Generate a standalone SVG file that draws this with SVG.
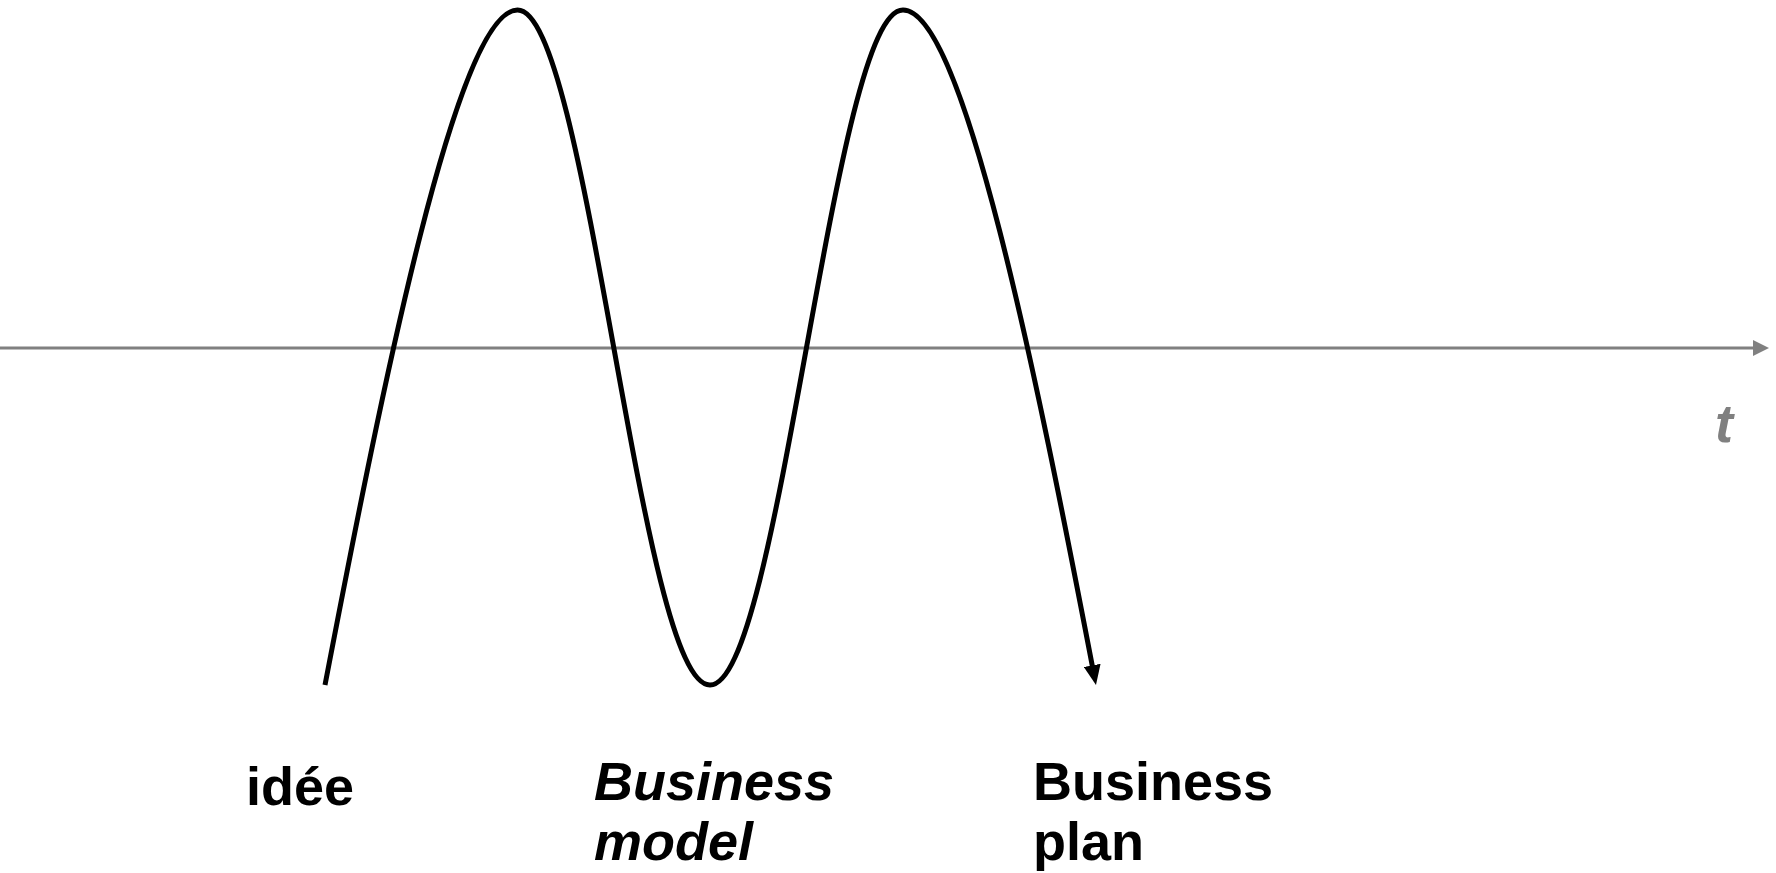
<svg xmlns="http://www.w3.org/2000/svg" width="1776" height="873" viewBox="0 0 1776 873">
  <style>
    .lbl { font-family: "Liberation Sans", Arial, sans-serif; font-size: 54px; font-weight: bold; fill: #000000; }
    .it { font-style: italic; }
    .axis { stroke: #808080; stroke-width: 3; fill: none; }
    .wave { stroke: #000000; stroke-width: 5; fill: none; stroke-linecap: butt; stroke-linejoin: round; }
  </style>
  <defs>
    <marker id="axisArrow" markerUnits="userSpaceOnUse" viewBox="0 0 16 16" markerWidth="16" markerHeight="16" refX="1" refY="8" orient="auto">
      <path d="M0,0 L16,8 L0,16 z" fill="#808080"/>
    </marker>
    <marker id="waveArrow" markerUnits="userSpaceOnUse" viewBox="0 0 20 17" markerWidth="20" markerHeight="17" refX="10" refY="8.5" orient="auto">
      <path d="M0,0 L20,8.5 L0,17 z" fill="#000000"/>
    </marker>
  </defs>
  <rect width="1776" height="873" fill="#ffffff"/>
  <g id="connectors">
    <line id="time-axis" class="axis" x1="0" y1="348" x2="1754" y2="348" marker-end="url(#axisArrow)"/>
    <path id="wave" class="wave" marker-end="url(#waveArrow)"
      d="M325,685 C382.6,385 457.5,10 517.5,10
         C552.3,10 582.4,174.6 613.75,347.5
         C645.1,520.4 675.2,685 710,685
         C744.9,685 775,520.4 806.5,347.5
         C838,174.6 868.1,10 903,10
         C963,10 1036.7,376 1094.1,675.2"/>
  </g>
  <g id="axis-label">
    <text class="lbl it" x="1715" y="442" style="fill:#808080">t</text>
  </g>
  <g id="node-idee">
    <text class="lbl" x="246" y="805">idée</text>
  </g>
  <g id="node-business-model">
    <text class="lbl it" x="594" y="800">Business</text>
    <text class="lbl it" x="594" y="860">model</text>
  </g>
  <g id="node-business-plan">
    <text class="lbl" x="1033" y="800">Business</text>
    <text class="lbl" x="1033" y="860">plan</text>
  </g>
</svg>
